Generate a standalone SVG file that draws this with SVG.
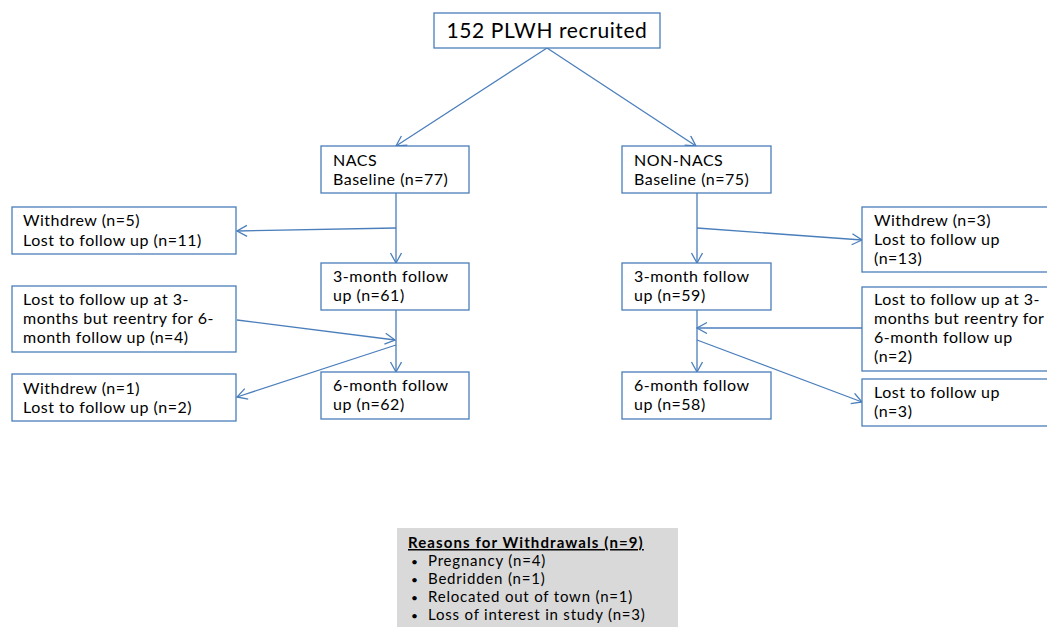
<svg xmlns="http://www.w3.org/2000/svg" width="1047" height="627" viewBox="0 0 1047 627">
<style>
.box{fill:#fff;stroke:#4a7ebb;stroke-width:1.3}
.t{font-family:Lato,"Open Sans","Liberation Sans",sans-serif;font-size:16px;letter-spacing:0.5px;fill:#000}
.c{stroke:#4a7ebb;stroke-width:1.3;fill:none;marker-end:url(#ah)}
.r{font-family:Lato,"Open Sans","Liberation Sans",sans-serif;font-size:15px;letter-spacing:0.8px;fill:#000}
</style>
<defs>
<marker id="ah" markerUnits="userSpaceOnUse" markerWidth="14" markerHeight="14" refX="11" refY="6" orient="auto">
<path d="M1,0.5 L11,6 L1,11.5" fill="none" stroke="#4a7ebb" stroke-width="1.3"/>
</marker>
</defs>
<rect width="1047" height="627" fill="#fff"/>
<g id="connectors">
<line class="c" x1="547" y1="48" x2="396" y2="146"/>
<line class="c" x1="547" y1="48" x2="696" y2="146"/>
<line class="c" x1="396" y1="193" x2="396" y2="263"/>
<line class="c" x1="396" y1="228" x2="237" y2="231"/>
<line class="c" x1="396" y1="310" x2="396" y2="372"/>
<line class="c" x1="237" y1="320" x2="395" y2="340"/>
<line class="c" x1="396" y1="345" x2="237" y2="397"/>
<line class="c" x1="697" y1="193" x2="697" y2="263"/>
<line class="c" x1="697" y1="228" x2="862" y2="240"/>
<line class="c" x1="697" y1="310" x2="697" y2="372"/>
<line class="c" x1="862" y1="328" x2="697" y2="328"/>
<line class="c" x1="697" y1="340" x2="862" y2="402"/>
</g>
<g id="top">
<rect class="box" x="434" y="13" width="226" height="35"/>
<text class="t" x="547" y="38" text-anchor="middle" style="font-size:21px;letter-spacing:0.6px">152 PLWH recruited</text>
</g>
<g id="nacs">
<rect class="box" x="321" y="146" width="148" height="47"/>
<text class="t" x="333" y="166">NACS</text>
<text class="t" x="333" y="185">Baseline (n=77)</text>
</g>
<g id="nonnacs">
<rect class="box" x="622" y="146" width="149" height="47"/>
<text class="t" x="634" y="166">NON-NACS</text>
<text class="t" x="634" y="185">Baseline (n=75)</text>
</g>
<g id="withdrew-left-1">
<rect class="box" x="12" y="207" width="224" height="47"/>
<text class="t" x="23" y="226">Withdrew (n=5)</text>
<text class="t" x="23" y="246">Lost to follow up (n=11)</text>
</g>
<g id="m3-left">
<rect class="box" x="321" y="263" width="148" height="47"/>
<text class="t" x="333" y="282">3-month follow</text>
<text class="t" x="333" y="301">up (n=61)</text>
</g>
<g id="reentry-left">
<rect class="box" x="12" y="286" width="224" height="66"/>
<text class="t" x="23" y="305">Lost to follow up at 3-</text>
<text class="t" x="23" y="324">months but reentry for 6-</text>
<text class="t" x="23" y="343">month follow up (n=4)</text>
</g>
<g id="withdrew-left-2">
<rect class="box" x="12" y="374" width="224" height="47"/>
<text class="t" x="23" y="394">Withdrew (n=1)</text>
<text class="t" x="23" y="413">Lost to follow up (n=2)</text>
</g>
<g id="m6-left">
<rect class="box" x="321" y="372" width="148" height="47"/>
<text class="t" x="333" y="391">6-month follow</text>
<text class="t" x="333" y="410">up (n=62)</text>
</g>
<g id="withdrew-right-1">
<rect class="box" x="862" y="207" width="200" height="65"/>
<text class="t" x="874" y="226">Withdrew (n=3)</text>
<text class="t" x="874" y="245">Lost to follow up</text>
<text class="t" x="874" y="264">(n=13)</text>
</g>
<g id="m3-right">
<rect class="box" x="622" y="263" width="149" height="47"/>
<text class="t" x="634" y="282">3-month follow</text>
<text class="t" x="634" y="301">up (n=59)</text>
</g>
<g id="reentry-right">
<rect class="box" x="862" y="287" width="200" height="84"/>
<text class="t" x="874" y="305">Lost to follow up at 3-</text>
<text class="t" x="874" y="324">months but reentry for</text>
<text class="t" x="874" y="343">6-month follow up</text>
<text class="t" x="874" y="362">(n=2)</text>
</g>
<g id="m6-right">
<rect class="box" x="622" y="372" width="149" height="47"/>
<text class="t" x="634" y="391">6-month follow</text>
<text class="t" x="634" y="410">up (n=58)</text>
</g>
<g id="lost-right">
<rect class="box" x="862" y="379" width="200" height="47"/>
<text class="t" x="874" y="398">Lost to follow up</text>
<text class="t" x="874" y="417">(n=3)</text>
</g>
<g id="reasons">
<rect x="397" y="528" width="281" height="100" fill="#d9d9d9"/>
<text class="r" x="408" y="548" font-weight="bold" text-decoration="underline" style="letter-spacing:1.1px">Reasons for Withdrawals (n=9)</text>
<text class="r" x="411" y="566" style="font-size:12px">•</text><text class="r" x="428" y="566">Pregnancy (n=4)</text>
<text class="r" x="411" y="584" style="font-size:12px">•</text><text class="r" x="428" y="584">Bedridden (n=1)</text>
<text class="r" x="411" y="602" style="font-size:12px">•</text><text class="r" x="428" y="602">Relocated out of town (n=1)</text>
<text class="r" x="411" y="620" style="font-size:12px">•</text><text class="r" x="428" y="620">Loss of interest in study (n=3)</text>
</g>
</svg>
